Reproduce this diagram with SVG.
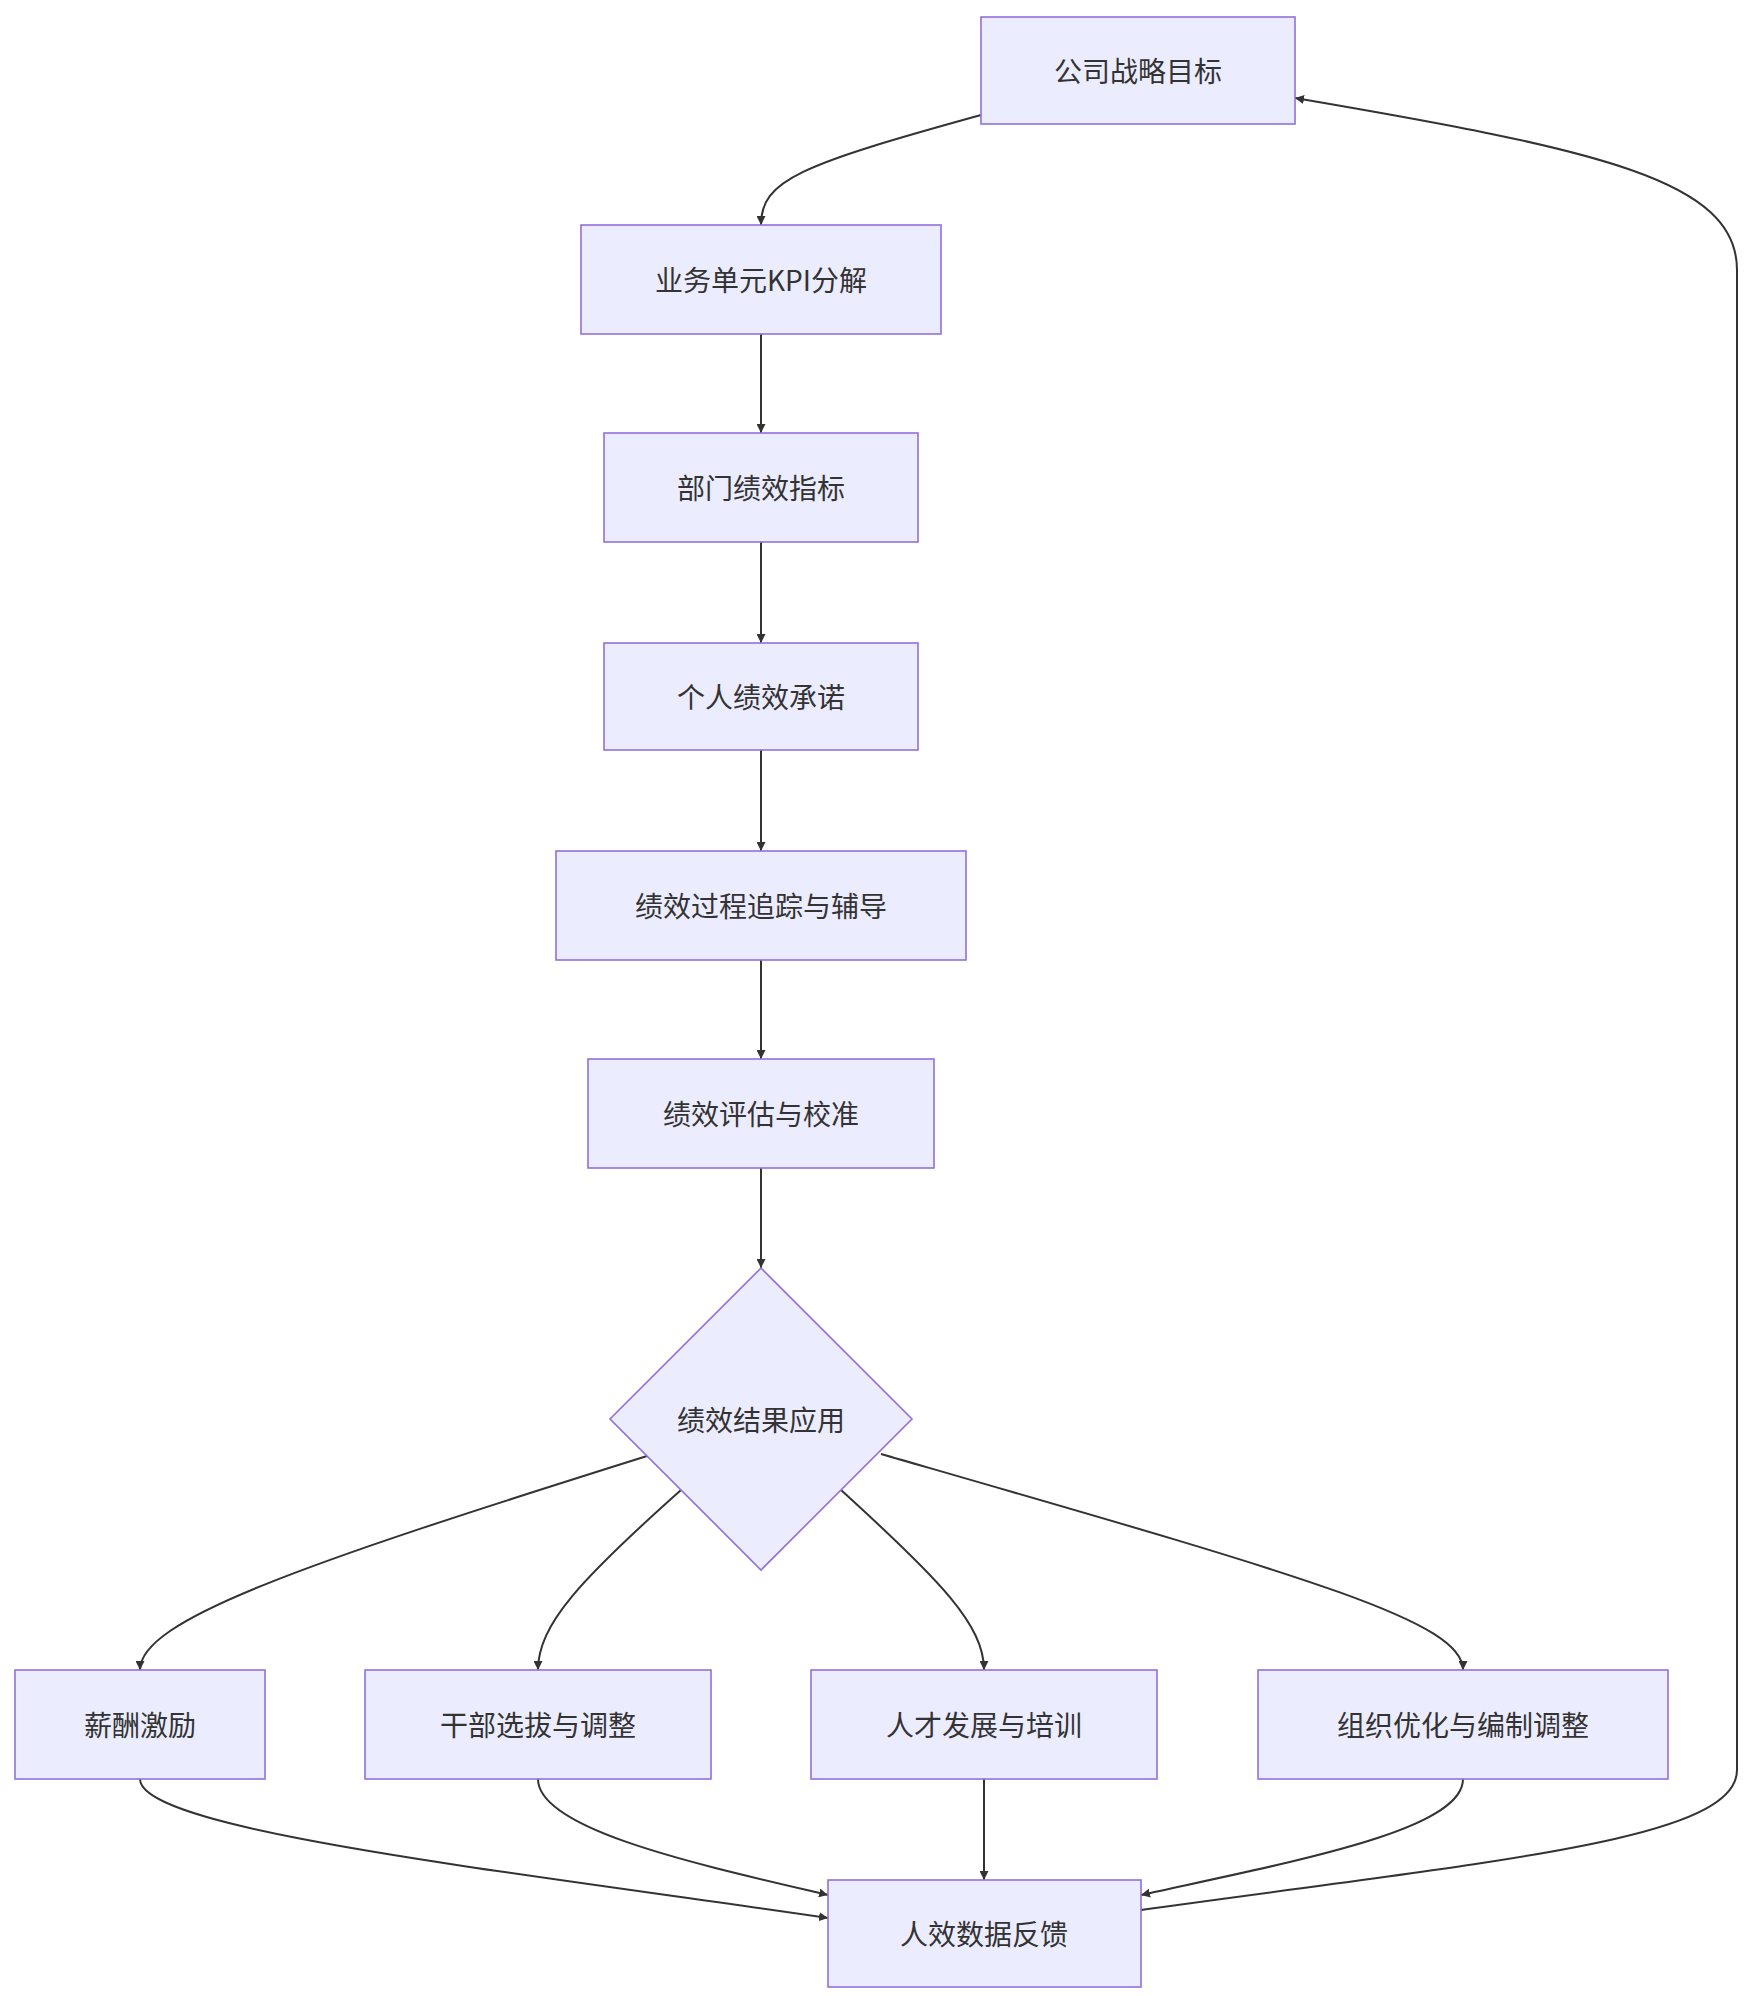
<svg xmlns="http://www.w3.org/2000/svg" width="1746" height="1996" viewBox="0 0 1746 1996">
<style>
.n{fill:#ECECFF;stroke:#9370DB;stroke-width:1.6}
.t{font-family:"Noto Sans CJK SC","Liberation Sans",sans-serif;font-size:28px;fill:#333;text-anchor:middle;dominant-baseline:central}
.e{fill:none;stroke:#333;stroke-width:2}
</style>
<defs><marker id="a" viewBox="0 0 10 10" refX="10" refY="5" markerWidth="9" markerHeight="9" orient="auto" markerUnits="userSpaceOnUse"><path d="M0,0L10,5L0,10z" fill="#333"/></marker></defs>
<rect width="1746" height="1996" fill="#fff"/>
<g id="edges" class="e" marker-end="url(#a)">
<path d="M981,115 C800,165 761,180 761,225"/>
<path d="M761,334 V433"/>
<path d="M761,542 V643"/>
<path d="M761,750 V851"/>
<path d="M761,960 V1059"/>
<path d="M761,1168 V1268"/>
<path d="M647,1456 C300,1565 140,1620 140,1670"/>
<path d="M681,1490 C580,1580 538,1625 538,1670"/>
<path d="M841,1490 C940,1580 984,1625 984,1670"/>
<path d="M881,1454 C1300,1575 1463,1620 1463,1670"/>
<path d="M984,1779 V1880"/>
<path d="M140,1779 C140,1830 500,1870 828,1918"/>
<path d="M538,1779 C538,1830 700,1865 828,1895"/>
<path d="M1463,1779 C1463,1830 1300,1860 1141,1895"/>
<path d="M1141,1910 C1500,1860 1737,1840 1737,1770 V270 C1737,180 1600,150 1295,98"/>
</g>
<g id="n1"><rect class="n" x="981" y="17" width="314" height="107"/><text class="t" x="1138" y="70">公司战略目标</text></g>
<g id="n2"><rect class="n" x="581" y="225" width="360" height="109"/><text class="t" x="761" y="279">业务单元KPI分解</text></g>
<g id="n3"><rect class="n" x="604" y="433" width="314" height="109"/><text class="t" x="761" y="487">部门绩效指标</text></g>
<g id="n4"><rect class="n" x="604" y="643" width="314" height="107"/><text class="t" x="761" y="696">个人绩效承诺</text></g>
<g id="n5"><rect class="n" x="556" y="851" width="410" height="109"/><text class="t" x="761" y="905">绩效过程追踪与辅导</text></g>
<g id="n6"><rect class="n" x="588" y="1059" width="346" height="109"/><text class="t" x="761" y="1113">绩效评估与校准</text></g>
<g id="n7"><polygon class="n" points="761,1268 912,1419 761,1570 610,1419"/><text class="t" x="761" y="1419">绩效结果应用</text></g>
<g id="n8"><rect class="n" x="15" y="1670" width="250" height="109"/><text class="t" x="140" y="1724">薪酬激励</text></g>
<g id="n9"><rect class="n" x="365" y="1670" width="346" height="109"/><text class="t" x="538" y="1724">干部选拔与调整</text></g>
<g id="n10"><rect class="n" x="811" y="1670" width="346" height="109"/><text class="t" x="984" y="1724">人才发展与培训</text></g>
<g id="n11"><rect class="n" x="1258" y="1670" width="410" height="109"/><text class="t" x="1463" y="1724">组织优化与编制调整</text></g>
<g id="n12"><rect class="n" x="828" y="1880" width="313" height="107"/><text class="t" x="984" y="1933">人效数据反馈</text></g>
</svg>
